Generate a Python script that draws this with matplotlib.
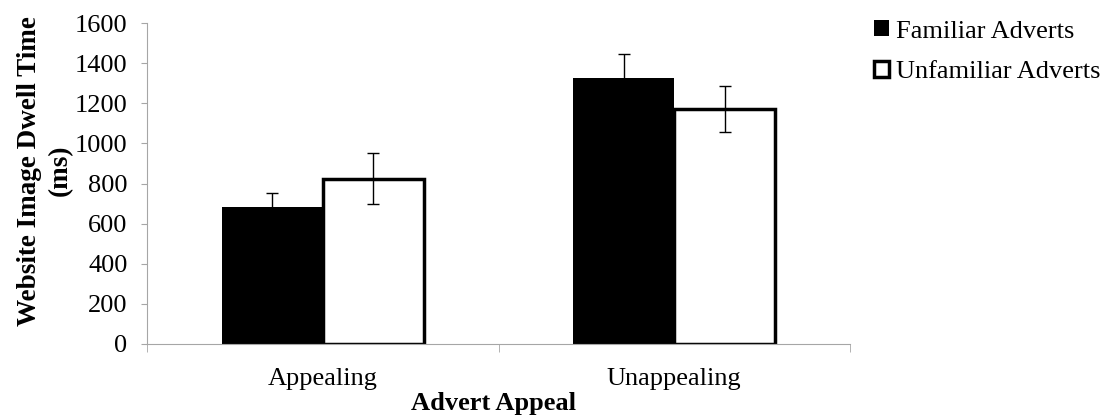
import numpy as np
import matplotlib

matplotlib.use("Agg")
from matplotlib import pyplot as plt

categories = ["Appealing", "Unappealing"]
series_names = ["Familiar Adverts", "Unfamiliar Adverts"]
familiar = [685, 1327]
familiar_err = [68, 118]
unfamiliar = [825, 1172]
unfamiliar_err = [128, 114]
y_ticks = [0, 200, 400, 600, 800, 1000, 1200, 1400, 1600]

plt.rcParams["font.family"] = ["Liberation Serif", "DejaVu Serif"]

fig = plt.figure(figsize=(11.14, 4.19), dpi=100)
ax = fig.add_axes([0.132, 0.179, 0.631, 0.766])

x = np.arange(len(categories))
width = 0.287
ax.bar(x - width / 2, familiar, width, color="black", edgecolor="black",
       linewidth=0, label=series_names[0], zorder=2)
ax.bar(x + width / 2, unfamiliar, width, color="white", edgecolor="black",
       linewidth=2.5, label=series_names[1], zorder=2)
ax.errorbar(x - width / 2, familiar, yerr=familiar_err, fmt="none",
            ecolor="black", elinewidth=1, capsize=4, capthick=1, zorder=3)
ax.errorbar(x + width / 2, unfamiliar, yerr=unfamiliar_err, fmt="none",
            ecolor="black", elinewidth=1, capsize=4, capthick=1, zorder=3)

ax.set_xlim(-0.5, len(categories) - 0.5)
ax.set_ylim(0, 1600)
ax.set_yticks(y_ticks)
ax.set_xticks(x, categories)
ax.set_xticks(np.arange(len(categories) + 1) - 0.5, minor=True)
ax.tick_params(axis="x", which="major", length=0, labelsize=19, pad=17.5)
ax.tick_params(axis="x", which="minor", length=6, color="#a6a6a6")
ax.tick_params(axis="y", length=4, color="#a6a6a6", labelsize=19, pad=10)

for side in ["top", "right"]:
    ax.spines[side].set_visible(False)
for side in ["left", "bottom"]:
    ax.spines[side].set_color("#a6a6a6")

ax.set_ylabel("Website Image Dwell Time\n(ms)", fontsize=19.5, fontweight="bold",
              linespacing=1.35)
ax.yaxis.set_label_coords(-0.105, 0.54)
ax.set_xlabel("Advert Appeal", fontsize=19, fontweight="bold")
ax.xaxis.set_label_coords(0.493, -0.148)

ax.legend(loc="upper left", bbox_to_anchor=(0.7846, 0.952),
          bbox_transform=fig.transFigure, frameon=False, borderpad=0,
          borderaxespad=0, fontsize=19, handlelength=0.57, handleheight=0.57,
          handletextpad=0.25, labelspacing=0.69)

fig.savefig("out.png", dpi=100)
